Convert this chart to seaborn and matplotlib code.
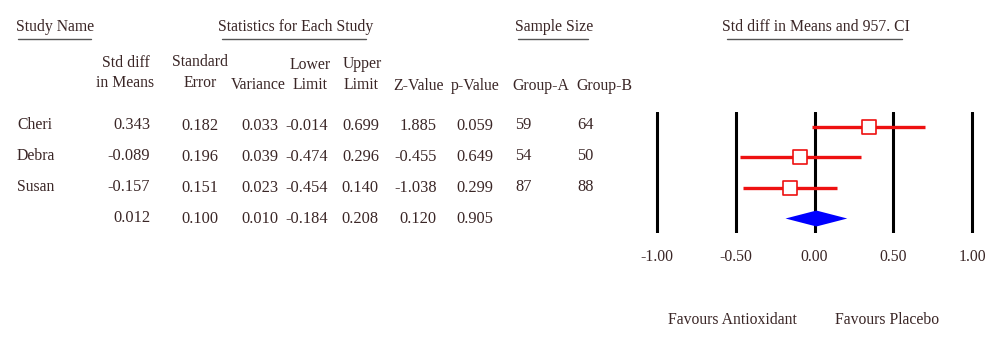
import matplotlib
matplotlib.use("Agg")
import matplotlib.pyplot as plt
from matplotlib.lines import Line2D
import seaborn as sns
import pandas as pd

# ---------------- data ----------------
studies = ["Cheri", "Debra", "Susan", ""]
std_diff = [0.343, -0.089, -0.157, 0.012]
std_err = [0.182, 0.196, 0.151, 0.100]
variance = [0.033, 0.039, 0.023, 0.010]
lower = [-0.014, -0.474, -0.454, -0.184]
upper = [0.699, 0.296, 0.140, 0.208]
z_value = [1.885, -0.455, -1.038, 0.120]
p_value = [0.059, 0.649, 0.299, 0.905]
group_a = ["59", "54", "87", ""]
group_b = ["64", "50", "88", ""]
x_ticks = [-1.0, -0.5, 0.0, 0.5, 1.0]
x_tick_labels = ["-1.00", "-0.50", "0.00", "0.50", "1.00"]

sns.set_style("white")
plt.rcParams["font.family"] = ["Liberation Serif", "DejaVu Serif"]
TXT = "#3a2626"
FS = 11.3
FSN = 11.8

W, H = 1000, 343
fig = plt.figure(figsize=(W / 100, H / 100), dpi=100)


def fx(x):
    return x / W


def fy(y):
    return 1 - y / H


def ftext(x, y, s, ha="center", fs=FS, **kw):
    fig.text(fx(x), fy(y), s, ha=ha, va="center", fontsize=fs, color=TXT, **kw)


def uline(x0, x1, y):
    fig.add_artist(Line2D([fx(x0), fx(x1)], [fy(y), fy(y)], color="#555555", lw=1.0))


# ---------------- section headers ----------------
ftext(16, 27, "Study Name", ha="left")
uline(18, 91, 39)
ftext(296, 27, "Statistics for Each Study")
uline(222, 366, 39)
ftext(554, 27, "Sample Size")
uline(518, 588, 39)
ftext(816, 27, "Std diff in Means and 957. CI")
uline(727, 902, 39)

# ---------------- column headers ----------------
ftext(126, 63, "Std diff")
ftext(125, 83, "in Means")
ftext(200, 62, "Standard")
ftext(200, 83, "Error")
ftext(258, 85, "Variance")
ftext(310, 65, "Lower")
ftext(310, 85, "Limit")
ftext(362, 64, "Upper")
ftext(361, 85, "Limit")
ftext(419, 86, "Z-Value")
ftext(475, 86, "p-Value")
ftext(541, 86, "Group-A")
ftext(604, 86, "Group-B")

# ---------------- table rows ----------------
row_y = [125, 156, 187, 218]
for i, y in enumerate(row_y):
    ftext(17, y, studies[i], ha="left")
    ftext(150, y, f"{std_diff[i]:.3f}", ha="right", fs=FSN)
    ftext(218, y + 1, f"{std_err[i]:.3f}", ha="right", fs=FSN)
    ftext(278, y + 1, f"{variance[i]:.3f}", ha="right", fs=FSN)
    ftext(328, y + 1, f"{lower[i]:.3f}", ha="right", fs=FSN)
    ftext(379, y + 1, f"{upper[i]:.3f}", ha="right", fs=FSN)
    ftext(437, y + 1, f"{z_value[i]:.3f}", ha="right", fs=FSN)
    ftext(493, y + 1, f"{p_value[i]:.3f}", ha="right", fs=FSN)
    ftext(515, y, group_a[i], ha="left", fs=FSN)
    ftext(577, y, group_b[i], ha="left", fs=FSN)

# ---------------- forest plot ----------------
unit = 157.5
x0px = 814.5
row_px = 30.67
y_top, y_bot = -0.47, 3.47
left_px = x0px - 1.2 * unit
top_px = 126.5 + y_top * row_px
bot_px = 126.5 + y_bot * row_px
ax = fig.add_axes([fx(left_px), fy(bot_px), 2.4 * unit / W, (bot_px - top_px) / H])
ax.set_xlim(-1.2, 1.2)
ax.set_ylim(y_bot, y_top)
for s in ax.spines.values():
    s.set_visible(False)
ax.set_facecolor("none")

for xv in x_ticks:
    ax.axvline(xv, color="black", lw=2.2, zorder=1)

df = pd.DataFrame({"study": studies[:3], "est": std_diff[:3], "lo": lower[:3],
                   "hi": upper[:3], "row": [0, 1, 2]})
ax.hlines(df["row"], df["lo"], df["hi"], color="#ee1111", lw=2.4, zorder=2)
sns.scatterplot(data=df, x="est", y="row", marker="s", s=115, color="white",
                edgecolor="#ee1111", linewidth=1.2, zorder=3, ax=ax, legend=False)

# summary diamond
hd = 0.26
ax.fill([lower[3], std_diff[3], upper[3], std_diff[3]],
        [3, 3 - hd, 3, 3 + hd], color="#0000ff", zorder=3, lw=0)

ax.set_xticks(x_ticks)
ax.set_xticklabels(x_tick_labels, fontsize=FS, color=TXT)
ax.tick_params(axis="x", length=0, pad=11.5)
ax.set_yticks([])
ax.set_xlabel("")
ax.set_ylabel("")

ftext(668, 320, "Favours Antioxidant", ha="left")
ftext(835, 320, "Favours Placebo", ha="left")

fig.savefig("out.png", dpi=100)
